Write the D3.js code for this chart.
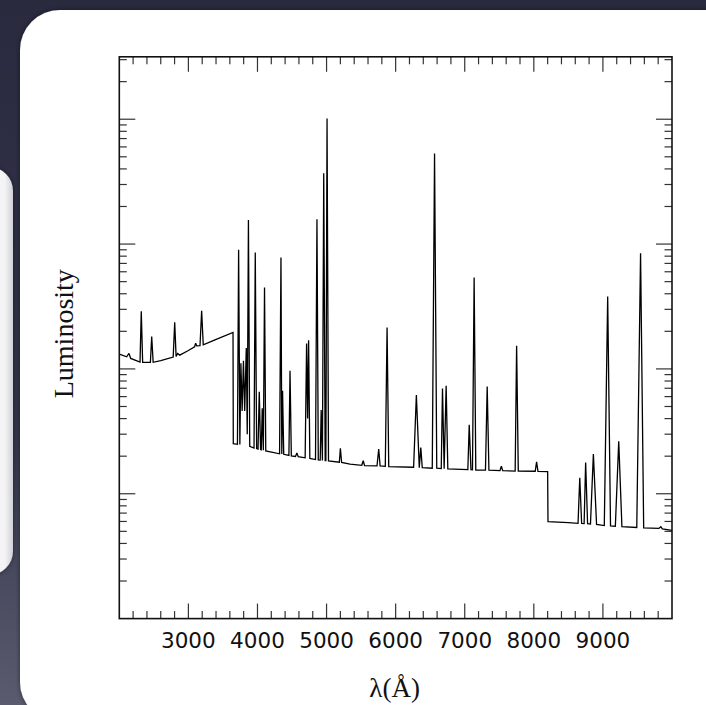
<!DOCTYPE html>
<html>
<head>
<meta charset="utf-8">
<script src="https://cdn.jsdelivr.net/npm/d3@7/dist/d3.min.js"></script>
<style>
html, body { margin: 0; padding: 0; background: #2c2d42; overflow: hidden; }
svg { display: block; }
</style>
</head>
<body>
<svg id="chart" width="706" height="705"></svg>
<script>
// ---------- data ----------
// spectrum: [wavelength (Angstrom), luminosity (arbitrary, log axis)]
const spectrum = [
  [2000, 131.4], [2107, 125.0], [2140, 133.1], [2165, 121.4], [2300, 113.4],
  [2318, 290], [2338, 112.7], [2450, 112.7], [2469, 182], [2490, 113.0],
  [2600, 116.3], [2780, 124.5], [2802, 236], [2822, 126.0], [2845, 133.0],
  [2875, 129.0], [3000, 140.4], [3090, 150.6], [3105, 160.9], [3120, 153.1],
  [3168, 153.5], [3192, 292], [3215, 156.0], [3385, 171.0], [3646, 196.0],
  [3650, 25.2], [3710, 24.9], [3727, 899], [3745, 24.8], [3760, 111],
  [3778, 46], [3797, 116], [3815, 46], [3838, 147], [3852, 30],
  [3869, 1560], [3888, 24.0], [3950, 23.2], [3968, 856], [3988, 23.0],
  [4008, 22.8], [4026, 65.6], [4045, 22.6], [4055, 22.5], [4069, 48.5],
  [4085, 22.3], [4102, 449], [4120, 22.0], [4320, 20.9], [4340, 781],
  [4352, 20.8], [4363, 66.8], [4380, 20.7], [4455, 20.3], [4471, 96.6],
  [4490, 20.1], [4550, 19.9], [4570, 21.2], [4590, 19.8], [4690, 19.4],
  [4711, 160], [4726, 40], [4740, 170], [4758, 19.2], [4840, 18.8],
  [4861, 1582], [4880, 18.7], [4908, 18.6], [4922, 46.8], [4940, 18.5],
  [4959, 3696], [4980, 18.4], [4990, 18.4], [5007, 10130], [5028, 18.3],
  [5185, 17.9], [5200, 23.1], [5218, 17.8], [5340, 17.3], [5510, 16.9],
  [5531, 18.4], [5550, 16.8], [5730, 16.7], [5755, 22.8], [5775, 16.7],
  [5850, 16.6], [5876, 215], [5900, 16.5], [6260, 16.3], [6300, 61.7],
  [6342, 16.2], [6364, 23.5], [6385, 16.2], [6530, 16.0], [6563, 5315],
  [6595, 16.0], [6660, 15.9], [6678, 69.8], [6702, 15.9], [6731, 73.2],
  [6755, 15.85], [7045, 15.6], [7065, 35.7], [7090, 15.6], [7112, 15.55],
  [7136, 540], [7160, 15.5], [7300, 15.45], [7325, 72.4], [7350, 15.45],
  [7510, 15.3], [7530, 16.6], [7550, 15.3], [7730, 15.2], [7751, 153],
  [7775, 15.2], [8020, 15.15], [8040, 18.0], [8060, 15.1], [8200, 15.06],
  [8205, 5.97], [8500, 5.87], [8640, 5.80], [8665, 13.4], [8692, 5.78],
  [8728, 5.77], [8750, 17.8], [8778, 5.76], [8820, 5.73], [8862, 20.8],
  [8908, 5.68], [9020, 5.56], [9069, 381], [9110, 5.53], [9180, 5.49],
  [9229, 26.3], [9275, 5.46], [9490, 5.37], [9545, 846], [9590, 5.33],
  [9810, 5.28], [9838, 5.45], [9860, 5.24], [10000, 5.08]
];
const xDomain = [2000, 10000];
const yDomain = [1, 31623];
const xMajorTicks = [3000, 4000, 5000, 6000, 7000, 8000, 9000];
const xTickLabels = ["3000", "4000", "5000", "6000", "7000", "8000", "9000"];
const xMinorStep = 200;
const xTitle = "λ(Å)";
const yTitle = "Luminosity";

// ---------- layout ----------
const W = 706, H = 705;
const plot = { left: 119.3, right: 672, top: 56.8, bottom: 618.6 };
const majorLen = 15, minorLen = 7.5;

const svg = d3.select("#chart");
const defs = svg.append("defs");

const bg = defs.append("linearGradient").attr("id", "bg")
  .attr("x1", 0).attr("y1", 0).attr("x2", 0).attr("y2", 1);
bg.append("stop").attr("offset", "0%").attr("stop-color", "#292a3e");
bg.append("stop").attr("offset", "60%").attr("stop-color", "#34354b");
bg.append("stop").attr("offset", "100%").attr("stop-color", "#5a5b6e");

const backGrad = defs.append("linearGradient").attr("id", "backcard")
  .attr("x1", 0).attr("y1", 0).attr("x2", 1).attr("y2", 0);
backGrad.append("stop").attr("offset", "0%").attr("stop-color", "#ffffff");
backGrad.append("stop").attr("offset", "85%").attr("stop-color", "#f3f3f5");
backGrad.append("stop").attr("offset", "100%").attr("stop-color", "#cfcfd6");

const sh = defs.append("filter").attr("id", "shadow")
  .attr("x", "-10%").attr("y", "-10%").attr("width", "130%").attr("height", "130%");
sh.append("feDropShadow").attr("dx", 0).attr("dy", 0).attr("stdDeviation", 2.5)
  .attr("flood-color", "#000").attr("flood-opacity", 0.5);

svg.append("rect").attr("width", W).attr("height", H).attr("fill", "url(#bg)");

// back card (partially visible on the left)
svg.append("rect").attr("x", -40).attr("y", 167).attr("width", 53).attr("height", 408)
  .attr("rx", 24).attr("fill", "url(#backcard)").attr("filter", "url(#shadow)");

// main white card
svg.append("rect").attr("x", 20).attr("y", 10).attr("width", 740).attr("height", 712)
  .attr("rx", 40).attr("fill", "#ffffff").attr("filter", "url(#shadow)");

// ---------- scales ----------
const x = d3.scaleLinear().domain(xDomain).range([plot.left, plot.right]);
const y = d3.scaleLog().domain(yDomain).range([plot.bottom, plot.top]);

const g = svg.append("g");

// clip for the spectrum
defs.append("clipPath").attr("id", "clip").append("rect")
  .attr("x", plot.left).attr("y", plot.top)
  .attr("width", plot.right - plot.left).attr("height", plot.bottom - plot.top);

// spectrum line
const line = d3.line().x(d => x(d[0])).y(d => y(d[1]));
g.append("path").datum(spectrum)
  .attr("clip-path", "url(#clip)")
  .attr("d", line)
  .attr("fill", "none")
  .attr("stroke", "#000")
  .attr("stroke-width", 1.3)
  .attr("stroke-linejoin", "miter")
  .attr("stroke-miterlimit", 2);

// ---------- ticks (inward, mirrored on all sides) ----------
const tickG = g.append("g").attr("stroke", "#333").attr("stroke-width", 1.2);
const xMinor = d3.range(xDomain[0] + xMinorStep, xDomain[1], xMinorStep)
  .filter(v => xMajorTicks.indexOf(v) < 0);
xMinor.forEach(v => {
  tickG.append("line").attr("x1", x(v)).attr("x2", x(v))
    .attr("y1", plot.bottom).attr("y2", plot.bottom - minorLen);
  tickG.append("line").attr("x1", x(v)).attr("x2", x(v))
    .attr("y1", plot.top).attr("y2", plot.top + minorLen);
});
xMajorTicks.forEach(v => {
  tickG.append("line").attr("x1", x(v)).attr("x2", x(v))
    .attr("y1", plot.bottom).attr("y2", plot.bottom - majorLen);
  tickG.append("line").attr("x1", x(v)).attr("x2", x(v))
    .attr("y1", plot.top).attr("y2", plot.top + majorLen);
});

y.ticks().filter(v => v > yDomain[0] && v < yDomain[1]).forEach(v => {
  const lg = Math.log10(v);
  const isMajor = Math.abs(lg - Math.round(lg)) < 1e-9;
  const len = isMajor ? majorLen + 1 : minorLen;
  tickG.append("line").attr("x1", plot.left).attr("x2", plot.left + len)
    .attr("y1", y(v)).attr("y2", y(v));
  tickG.append("line").attr("x1", plot.right).attr("x2", plot.right - len)
    .attr("y1", y(v)).attr("y2", y(v));
});

// frame
g.append("rect").attr("x", plot.left).attr("y", plot.top)
  .attr("width", plot.right - plot.left).attr("height", plot.bottom - plot.top)
  .attr("fill", "none").attr("stroke", "#111").attr("stroke-width", 1.6);

// tick labels
g.selectAll("text.xt").data(xMajorTicks).enter().append("text")
  .attr("class", "xt")
  .attr("x", d => x(d)).attr("y", 648)
  .attr("text-anchor", "middle")
  .attr("font-family", "'DejaVu Sans', 'Liberation Sans', sans-serif")
  .attr("font-size", 21.5)
  .attr("fill", "#111")
  .text((d, i) => xTickLabels[i]);

// axis titles
g.append("text")
  .attr("x", (plot.left + plot.right) / 2 - 1).attr("y", 697)
  .attr("text-anchor", "middle")
  .attr("font-family", "'Liberation Serif', 'DejaVu Serif', serif")
  .attr("font-size", 27)
  .attr("fill", "#111")
  .text(xTitle);

g.append("text")
  .attr("transform", `translate(73, ${(plot.top + plot.bottom) / 2 - 4}) rotate(-90)`)
  .attr("text-anchor", "middle")
  .attr("font-family", "'Liberation Serif', 'DejaVu Serif', serif")
  .attr("font-size", 28)
  .attr("fill", "#111")
  .text(yTitle);
</script>
</body>
</html>
